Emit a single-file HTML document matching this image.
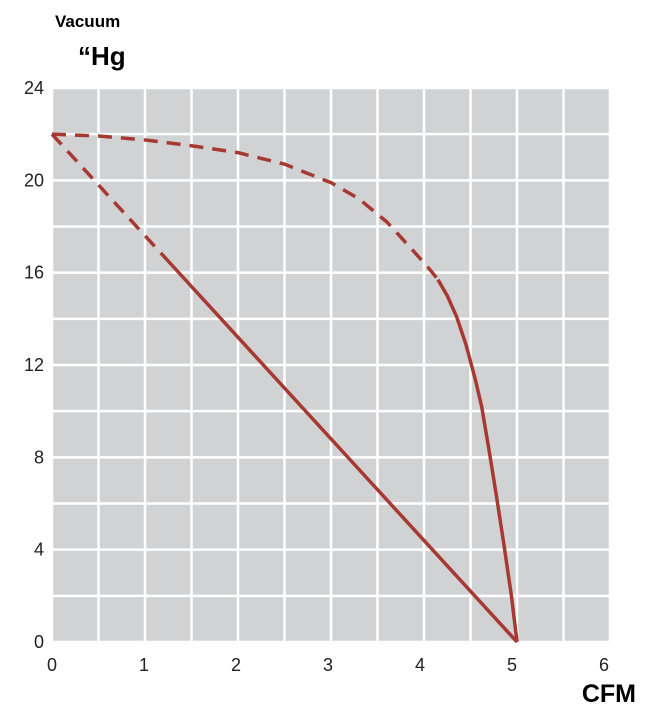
<!DOCTYPE html>
<html><head><meta charset="utf-8"><style>
body{margin:0;background:#fff;}
svg text{font-family:"Liberation Sans",sans-serif;}
</style></head><body>
<svg id="chart" width="655" height="718" xmlns="http://www.w3.org/2000/svg">
<text x="55" y="27" font-size="17" font-weight="bold">Vacuum</text>
<text x="78" y="65" font-size="26" font-weight="bold">“Hg</text>
<text x="636" y="702" font-size="25" font-weight="bold" text-anchor="end">CFM</text>
<g id="grid"></g><g id="ticks"></g><g id="series"></g>
</svg>
<script>
const xTicks=[0,1,2,3,4,5,6];
const yTicks=[0,4,8,12,16,20,24];
const lineX=[0,5.0];
const lineY=[22,0];
const lineDashEndX=1.25;
const curveX=[0,0.5,1,1.5,2,2.5,3,3.3,3.6,3.85,4.05,4.15];
const curveY=[22,21.92,21.75,21.5,21.2,20.7,19.9,19.2,18.2,17.1,16.2,15.7];
const curveSolidX=[4.15,4.25,4.35,4.45,4.55,4.62,4.7,4.78,4.86,4.94,5.0];
const curveSolidY=[15.7,15.0,14.1,12.9,11.4,10.2,8.3,6.3,4.2,2.0,0];

const L=52,R=610,T=88,B=642;
const sx=v=>L+(v/6)*(R-L), sy=v=>B-(v/24)*(B-T);
const NS="http://www.w3.org/2000/svg";
const mk=(t,a,p)=>{const e=document.createElementNS(NS,t);for(const k in a)e.setAttribute(k,a[k]);p.appendChild(e);return e;};
const grid=document.getElementById('grid'),ticks=document.getElementById('ticks'),ser=document.getElementById('series');
const bg=mk('rect',{x:L,y:T,width:R-L,height:B-T,fill:'#d1d2d4'},grid);


for(let v=0;v<=6;v+=0.5){const l=mk('line',{x1:sx(v),x2:sx(v),y1:T,y2:B,stroke:'#fff','stroke-width':2.5},grid);

}
for(let v=0;v<=24;v+=2){const l=mk('line',{x1:L,x2:R,y1:sy(v),y2:sy(v),stroke:'#fff','stroke-width':2.5},grid);

}
xTicks.forEach(v=>{const t=mk('text',{x:sx(v)-v,y:671,'font-size':18,'text-anchor':'middle',fill:'#222'},ticks);t.textContent=v;

});
yTicks.forEach(v=>{const t=mk('text',{x:44,y:sy(v)+6,'font-size':18,'text-anchor':'end',fill:'#222'},ticks);t.textContent=v;

});
const C='#a63a32';
const yAt=x=>lineY[0]+(lineY[1]-lineY[0])*(x-lineX[0])/(lineX[1]-lineX[0]);
const d1=mk('line',{x1:sx(lineX[0]),y1:sy(lineY[0]),x2:sx(lineDashEndX),y2:sy(yAt(lineDashEndX)),stroke:C,'stroke-width':3.5,'stroke-dasharray':'14 9'},ser);


const s1=mk('line',{x1:sx(lineDashEndX),y1:sy(yAt(lineDashEndX)),x2:sx(lineX[1]),y2:sy(lineY[1]),stroke:C,'stroke-width':3.5},ser);


const pts=(xs,ys)=>xs.map((x,i)=>sx(x)+','+sy(ys[i])).join(' ');
const d2=mk('polyline',{points:pts(curveX,curveY),fill:'none',stroke:C,'stroke-width':3.5,'stroke-dasharray':'14 9','stroke-linejoin':'round'},ser);


const s2=mk('polyline',{points:pts(curveSolidX,curveSolidY),fill:'none',stroke:C,'stroke-width':3.5,'stroke-linejoin':'round'},ser);


</script>
</body></html>
